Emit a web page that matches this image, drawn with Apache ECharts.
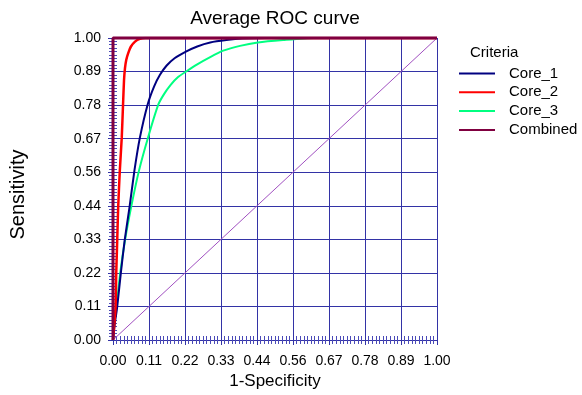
<!DOCTYPE html>
<html>
<head>
<meta charset="utf-8">
<script src="https://cdn.jsdelivr.net/npm/echarts@6/dist/echarts.min.js"></script>
<style>
  html, body { margin: 0; padding: 0; background: #fff; }
  #chart { width: 582px; height: 395px; }
</style>
</head>
<body>
<div id="chart"></div>
<script>
const core1Fpr = [0, 0.005, 0.013, 0.024, 0.036, 0.051, 0.066, 0.083, 0.107, 0.127, 0.145, 0.165, 0.19, 0.225, 0.26, 0.3, 0.35, 0.4, 0.47, 1.0]
const core1Tpr = [0, 0.05, 0.11, 0.22, 0.33, 0.44, 0.56, 0.67, 0.78, 0.84, 0.878, 0.908, 0.933, 0.955, 0.972, 0.985, 0.993, 0.998, 1.0, 1.0]
const core2Fpr = [0, 0.004, 0.008, 0.010, 0.013, 0.016, 0.021, 0.027, 0.031, 0.034, 0.037, 0.041, 0.047, 0.055, 0.068, 0.083, 0.1, 1.0]
const core2Tpr = [0, 0.05, 0.11, 0.22, 0.33, 0.44, 0.56, 0.67, 0.78, 0.86, 0.9, 0.928, 0.95, 0.971, 0.988, 0.997, 1.0, 1.0]
const core3Fpr = [0, 0.005, 0.011, 0.022, 0.037, 0.056, 0.08, 0.108, 0.14, 0.158, 0.178, 0.2, 0.227, 0.26, 0.3, 0.34, 0.392, 0.447, 0.525, 0.62, 1.0]
const core3Tpr = [0, 0.06, 0.11, 0.22, 0.33, 0.44, 0.56, 0.67, 0.78, 0.815, 0.845, 0.87, 0.89, 0.913, 0.937, 0.958, 0.974, 0.985, 0.993, 1.0, 1.0]
const combinedFpr = [0, 0, 1]
const combinedTpr = [0, 1, 1]
const chanceFpr = [0, 1]
const chanceTpr = [0, 1]

const names = ['Core_1', 'Core_2', 'Core_3', 'Combined']
const colors = ['#000080', '#ff0000', '#00ff80', '#800040']

const pairs = (xs, ys) => xs.map((x, i) => [x, ys[i]])

const font = 'Liberation Sans, Arial, sans-serif'
const gridColor = '#3333a6'
const step = 1 / 9

const tickFmt = v => v.toFixed(2)

const baseAxis = {
  type: 'value',
  min: 0,
  max: 1,
  interval: step,
  axisLine: { show: true, lineStyle: { color: gridColor, width: 1 } },
  axisTick: { show: true, inside: true, length: 5, lineStyle: { color: gridColor } },
  minorTick: { show: true, splitNumber: 10, length: 4, lineStyle: { color: '#4a4ab8' } },
  minorSplitLine: { show: false },
}

const myChart = echarts.init(document.getElementById('chart'))

const option = {
  animation: false,
  backgroundColor: '#fff',
  title: [
    {
      text: 'Average ROC curve',
      left: 275,
      top: 9,
      padding: 0,
      textAlign: 'center',
      textStyle: { fontFamily: font, fontSize: 19, fontWeight: 'normal', color: '#000' },
    },
    {
      text: 'Criteria',
      left: 470,
      top: 45,
      padding: 0,
      textStyle: { fontFamily: font, fontSize: 15, fontWeight: 'normal', color: '#000' },
    },
  ],
  grid: { left: 113, right: 145, top: 38, bottom: 52 },
  legend: {
    orient: 'vertical',
    left: 459,
    top: 66,
    padding: 0,
    itemWidth: 36,
    itemHeight: 2,
    itemGap: 3.8,
    icon: 'rect',
    data: names,
    textStyle: { fontFamily: font, fontSize: 15, color: '#000', lineHeight: 15, padding: [0, 0, 0, 9] },
  },
  xAxis: [
    Object.assign({}, baseAxis, {
      position: 'bottom',
      name: '1-Specificity',
      nameLocation: 'middle',
      nameGap: 33,
      nameTextStyle: { fontFamily: font, fontSize: 17, color: '#000' },
      axisLabel: { formatter: tickFmt, margin: 14, fontFamily: font, fontSize: 14, color: '#000' },
      splitLine: { show: true, lineStyle: { color: gridColor, width: 1 } },
    }),
    Object.assign({}, baseAxis, {
      position: 'top',
      axisLabel: { show: false },
      splitLine: { show: false },
    }),
  ],
  yAxis: [
    Object.assign({}, baseAxis, {
      position: 'left',
      name: 'Sensitivity',
      nameLocation: 'middle',
      nameGap: 85,
      nameTextStyle: { fontFamily: font, fontSize: 20, color: '#000', padding: [0, 11, 0, 0] },
      axisLabel: { formatter: tickFmt, margin: 12, fontFamily: font, fontSize: 14, color: '#000' },
      splitLine: { show: true, lineStyle: { color: gridColor, width: 1 } },
    }),
    Object.assign({}, baseAxis, {
      position: 'right',
      axisLabel: { show: false },
      splitLine: { show: false },
    }),
  ],
  series: [
    {
      name: 'chance',
      type: 'line',
      data: pairs(chanceFpr, chanceTpr),
      showSymbol: false,
      lineStyle: { color: '#a050c0', width: 1 },
      z: 2,
    },
    {
      name: 'Core_3',
      type: 'line',
      data: pairs(core3Fpr, core3Tpr),
      showSymbol: false,
      smooth: 0.2,
      color: colors[2],
      lineStyle: { color: colors[2], width: 2 },
      z: 3,
    },
    {
      name: 'Core_1',
      type: 'line',
      data: pairs(core1Fpr, core1Tpr),
      showSymbol: false,
      smooth: 0.2,
      color: colors[0],
      lineStyle: { color: colors[0], width: 2 },
      z: 4,
    },
    {
      name: 'Core_2',
      type: 'line',
      data: pairs(core2Fpr, core2Tpr),
      showSymbol: false,
      smooth: 0.2,
      color: colors[1],
      lineStyle: { color: colors[1], width: 2.5 },
      z: 5,
    },
    {
      name: 'Combined',
      type: 'line',
      data: pairs(combinedFpr, combinedTpr),
      showSymbol: false,
      clip: false,
      color: colors[3],
      lineStyle: { color: colors[3], width: 3 },
      z: 6,
    },
  ],
}

myChart.setOption(option)
</script>
</body>
</html>
